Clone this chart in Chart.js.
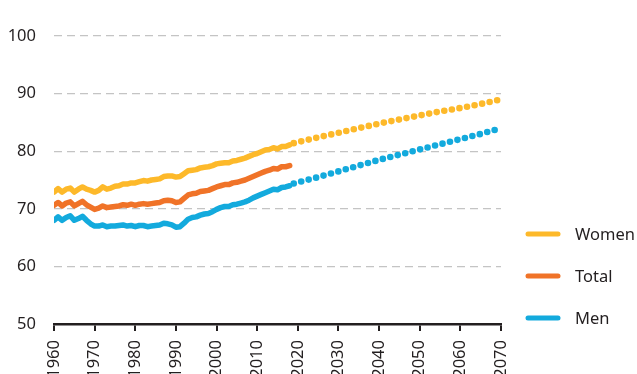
<!DOCTYPE html>
<html>

<head>
  <title>Life expectancy</title>
  <script src="https://cdn.jsdelivr.net/npm/chart.js@4.4.1/dist/chart.umd.min.js"></script>
  <style>
    body { margin: 0; background: #fff; }
  </style>
</head>

<body>
  <canvas id="lifeChart" width="637" height="374"></canvas>

  <script>
    // Observed years
    const years = [1960, 1961, 1962, 1963, 1964, 1965, 1966, 1967, 1968, 1969,
      1970, 1971, 1972, 1973, 1974, 1975, 1976, 1977, 1978, 1979,
      1980, 1981, 1982, 1983, 1984, 1985, 1986, 1987, 1988, 1989,
      1990, 1991, 1992, 1993, 1994, 1995, 1996, 1997, 1998, 1999,
      2000, 2001, 2002, 2003, 2004, 2005, 2006, 2007, 2008, 2009,
      2010, 2011, 2012, 2013, 2014, 2015, 2016, 2017, 2018];

    const women = [72.9, 73.5, 72.9, 73.4, 73.6, 72.9, 73.4, 73.8, 73.4, 73.2,
      72.9, 73.2, 73.8, 73.4, 73.6, 73.9, 74.0, 74.3, 74.3, 74.5,
      74.5, 74.7, 74.9, 74.8, 75.0, 75.1, 75.2, 75.6, 75.7, 75.7,
      75.5, 75.6, 76.1, 76.6, 76.7, 76.8, 77.1, 77.2, 77.3, 77.5,
      77.8, 77.9, 78.0, 78.0, 78.3, 78.4, 78.6, 78.8, 79.1, 79.4,
      79.6, 79.9, 80.2, 80.3, 80.6, 80.4, 80.8, 80.8, 81.1];

    const total = [70.6, 71.1, 70.5, 71.0, 71.2, 70.5, 70.9, 71.3, 70.7, 70.3,
      69.9, 70.1, 70.5, 70.2, 70.3, 70.4, 70.5, 70.7, 70.6, 70.8,
      70.6, 70.8, 70.9, 70.8, 70.9, 71.0, 71.1, 71.4, 71.5, 71.4,
      71.1, 71.2, 71.8, 72.4, 72.6, 72.7, 73.0, 73.1, 73.2, 73.5,
      73.8, 74.0, 74.2, 74.2, 74.5, 74.6, 74.8, 75.0, 75.3, 75.6,
      75.9, 76.2, 76.5, 76.7, 77.0, 76.9, 77.3, 77.3, 77.5];

    const men = [68.0, 68.6, 68.0, 68.5, 68.8, 68.0, 68.3, 68.7, 68.0, 67.4,
      67.0, 67.0, 67.2, 66.9, 67.0, 67.0, 67.1, 67.2, 67.0, 67.1,
      66.9, 67.1, 67.1, 66.9, 67.0, 67.1, 67.2, 67.5, 67.4, 67.2,
      66.8, 66.9, 67.5, 68.2, 68.5, 68.6, 68.9, 69.1, 69.2, 69.5,
      69.9, 70.2, 70.4, 70.4, 70.7, 70.8, 71.0, 71.2, 71.5, 71.9,
      72.2, 72.5, 72.8, 73.1, 73.4, 73.3, 73.7, 73.8, 74.0];

    // Projection (dotted)
    const projYears = [2019, 2025, 2030, 2035, 2040, 2045, 2050, 2055, 2060, 2065, 2070];
    const womenProj = [81.4, 82.4, 83.2, 84.0, 84.8, 85.5, 86.2, 86.9, 87.5, 88.2, 89.0];
    const menProj = [74.4, 75.5, 76.5, 77.5, 78.5, 79.4, 80.3, 81.2, 82.1, 83.0, 84.0];

    const colWomen = '#fdb92a';
    const colTotal = '#f07328';
    const colMen = '#13aadd';
    const textColor = '#231f20';
    const font = { family: 'Noto Sans', size: 16.5 };

    const pts = (xs, ys) => xs.map((x, i) => ({ x: x, y: ys[i] }));

    const solid = (data, color) => ({
      data: data,
      borderColor: color,
      borderWidth: 5.5,
      borderJoinStyle: 'round',
      borderCapStyle: 'round',
      pointRadius: 0,
      tension: 0,
      fill: false,
    });

    const dotted = (data, color) => ({
      data: data,
      borderColor: color,
      borderWidth: 6.6,
      borderDash: [0, 7.7],
      borderCapStyle: 'round',
      pointRadius: 0,
      tension: 0,
      fill: false,
    });

    // Legend on the right, drawn by hand
    const sideLegend = {
      id: 'sideLegend',
      afterDraw(chart) {
        const { ctx, chartArea } = chart;
        const items = [['Women', colWomen], ['Total', colTotal], ['Men', colMen]];
        ctx.save();
        items.forEach(([label, color], i) => {
          const y = chartArea.bottom - 90 + i * 42;
          ctx.strokeStyle = color;
          ctx.lineWidth = 5;
          ctx.lineCap = 'round';
          ctx.beginPath();
          ctx.moveTo(chartArea.right + 27, y);
          ctx.lineTo(chartArea.right + 57, y);
          ctx.stroke();
          ctx.fillStyle = textColor;
          ctx.font = font.size + 'px "' + font.family + '"';
          ctx.textBaseline = 'middle';
          ctx.fillText(label, chartArea.right + 74, y + 1);
        });
        ctx.restore();
      }
    };

    const ctx = document.getElementById('lifeChart').getContext('2d');
    const lifeChart = new Chart(ctx, {
      type: 'line',
      data: {
        datasets: [
          solid(pts(years, women), colWomen),
          solid(pts(years, total), colTotal),
          solid(pts(years, men), colMen),
          dotted(pts(projYears, womenProj), colWomen),
          dotted(pts(projYears, menProj), colMen),
        ],
      },
      options: {
        responsive: false,
        animation: false,
        layout: { padding: { top: 36, right: 136, left: 0, bottom: 0 } },
        plugins: {
          legend: { display: false },
          tooltip: { enabled: false },
        },
        scales: {
          x: {
            type: 'linear',
            min: 1960,
            max: 2070,
            ticks: {
              stepSize: 10,
              minRotation: 90,
              maxRotation: 90,
              autoSkip: false,
              padding: 9,
              color: textColor,
              font: font,
              callback: (v) => String(v),
            },
            grid: { drawOnChartArea: false, drawTicks: true, tickLength: 7, color: textColor, lineWidth: 2 },
            border: { color: textColor, width: 2.5 },
            afterFit: (s) => { s.height = 50; },
          },
          y: {
            min: 50,
            max: 100,
            ticks: { stepSize: 10, padding: 18, color: textColor, font: font },
            grid: {
              color: (c) => (c.tick && c.tick.value === 50 ? 'rgba(0,0,0,0)' : '#c4c4c4'),
              lineWidth: 1.2,
              drawTicks: false,
            },
            border: { display: false, dash: [8, 5] },
            afterFit: (s) => { s.width = 54; },
          },
        },
      },
      plugins: [sideLegend],
    });
  </script>
</body>

</html>
